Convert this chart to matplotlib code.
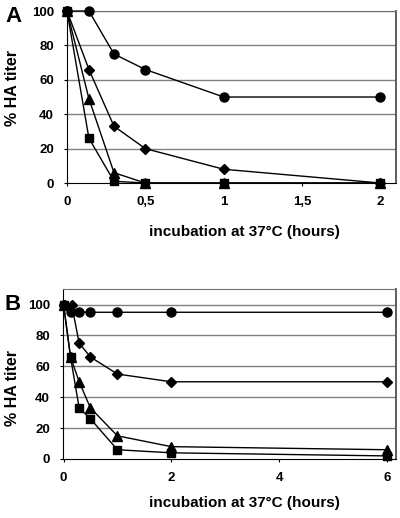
import matplotlib as mpl
mpl.use('Agg')
import matplotlib.pyplot as plt

plt.rcParams['font.family'] = ['Liberation Sans', 'DejaVu Sans']
plt.rcParams['font.weight'] = 'bold'

# panel A data (hours, % HA titer)
a_x = [0, 0.14, 0.3, 0.5, 1, 2]
a_circle = [100, 100, 75, 66, 50, 50]
a_diamond = [100, 66, 33, 20, 8, 0]
a_triangle = [100, 49, 6, 0, 0, 0]
a_square = [100, 26, 1, 0, 0, 0]
a_xticks = [0, 0.5, 1, 1.5, 2]
a_xticklabels = ['0', '0,5', '1', '1,5', '2']

# panel B data
b_x = [0, 0.13, 0.29, 0.5, 1, 2, 6]
b_circle = [100, 95, 95, 95, 95, 95, 95]
b_diamond_x = [0, 0.15, 0.29, 0.5, 1, 2, 6]
b_diamond = [100, 100, 75, 66, 55, 50, 50]
b_triangle = [100, 66, 50, 33, 15, 8, 6]
b_square = [100, 66, 33, 26, 6, 4, 2]
b_xticks = [0, 2, 4, 6]
b_xticklabels = ['0', '2', '4', '6']

yticks = [0, 20, 40, 60, 80, 100]

fig = plt.figure(figsize=(4.0, 5.18), dpi=100)


def style_axes(ax, ymax):
    ax.set_ylim(0, ymax)
    ax.set_yticks(yticks)
    ax.set_yticklabels([str(v) for v in yticks], fontsize=9.5, fontweight='bold')
    for v in yticks[1:]:
        ax.axhline(v, color='#808080', lw=1.0, zorder=1)
    ax.spines['left'].set_color('black')
    ax.spines['bottom'].set_color('black')
    ax.spines['top'].set_color('#707070')
    ax.spines['right'].set_color('#505050')
    ax.spines['right'].set_linewidth(1.3)
    ax.tick_params(direction='out', length=2.5, width=0.8, colors='black', pad=7)


def draw(ax, x, y, marker, ms, xx=None):
    ax.plot(xx if xx is not None else x, y, color='black', lw=1.0, marker=marker,
            ms=ms, mfc='black', mec='black', clip_on=False, zorder=3)


# panel A
ax1 = fig.add_axes([0.1675, 0.6467, 0.8225, 0.332])
style_axes(ax1, 100)
ax1.set_xlim(0, 2.1)
ax1.set_xticks(a_xticks)
ax1.set_xticklabels(a_xticklabels, fontsize=9.5, fontweight='bold')
draw(ax1, a_x, a_circle, 'o', 6.5)
draw(ax1, a_x, a_diamond, 'D', 4.8)
draw(ax1, a_x, a_triangle, '^', 6.5)
draw(ax1, a_x, a_square, 's', 5.5)

# panel B
ax2 = fig.add_axes([0.1575, 0.1139, 0.8325, 0.328])
style_axes(ax2, 110)
ax2.set_xlim(-0.01, 6.17)
ax2.set_xticks(b_xticks)
ax2.set_xticklabels(b_xticklabels, fontsize=9.5, fontweight='bold')
draw(ax2, b_x, b_circle, 'o', 6.5)
draw(ax2, b_x, b_diamond, 'D', 4.8, xx=b_diamond_x)
draw(ax2, b_x, b_triangle, '^', 6.5)
draw(ax2, b_x, b_square, 's', 5.5)

# labels
for yc in (1 - 232 / 518, 1 - 503 / 518):
    fig.text(244 / 400, yc, 'incubation at 37°C (hours)', ha='center', va='center',
             fontsize=11, fontweight='bold')
fig.text(13 / 400, 1 - 88 / 518, '% HA titer', rotation=90, ha='center', va='center',
         fontsize=11.5, fontweight='bold')
fig.text(13 / 400, 1 - 388 / 518, '% HA titer', rotation=90, ha='center', va='center',
         fontsize=11.5, fontweight='bold')
fig.text(13 / 400, 1 - 16 / 518, 'A', ha='center', va='center', fontsize=16, fontweight='bold')
fig.text(13 / 400, 1 - 305 / 518, 'B', ha='center', va='center', fontsize=16, fontweight='bold')

fig.savefig('out.png', dpi=100)
